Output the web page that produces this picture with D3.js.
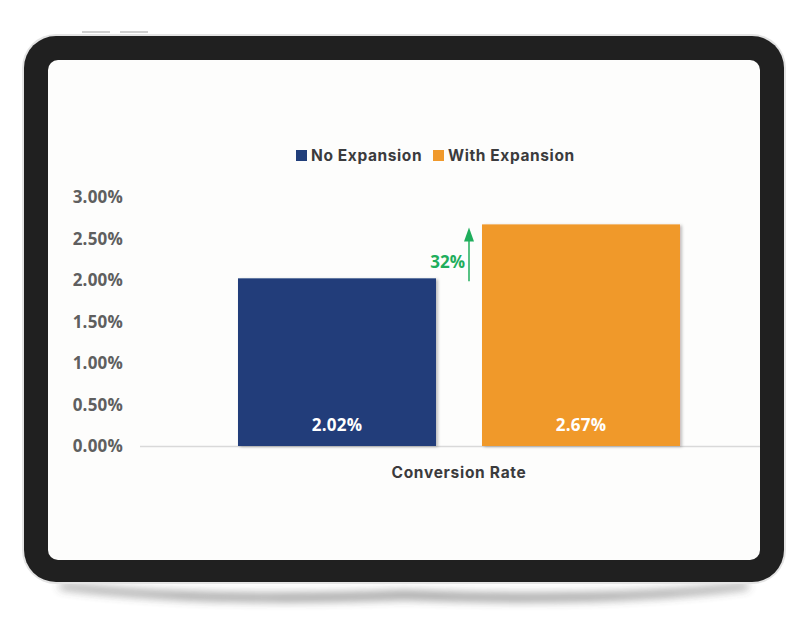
<!DOCTYPE html>
<html><head><meta charset="utf-8">
<script src="https://cdn.jsdelivr.net/npm/d3@7"></script>
<style>body{margin:0;background:#fff;}svg{display:block;}</style>
</head><body>
<svg id="c" width="808" height="627"></svg>
<script>
const categories = ["Conversion Rate"];
const seriesNames = ["No Expansion", "With Expansion"];
const seriesValues = [0.0202, 0.0267];
const seriesColors = ["#213e7a", "#f0992b"];
const yTicks = [0, 0.005, 0.01, 0.015, 0.02, 0.025, 0.03];
const changeLabel = "32%";

const svg = d3.select("#c");
const defs = svg.append("defs");
const f = defs.append("filter").attr("id","blur").attr("x","-20%").attr("y","-200%").attr("width","140%").attr("height","500%");
f.append("feGaussianBlur").attr("stdDeviation", 5);
const bs = defs.append("filter").attr("id","bshadow").attr("x","-10%").attr("y","-10%").attr("width","130%").attr("height","130%");
bs.append("feDropShadow").attr("dx",2).attr("dy",1).attr("stdDeviation",1.5).attr("flood-color","#000").attr("flood-opacity",0.25);

// tablet frame
svg.append("path").attr("d","M60,584 Q200,600 404,592 Q608,600 748,584 L748,588 Q608,606 404,598 Q200,606 60,588 Z")
  .attr("fill","#444").attr("filter","url(#blur)").attr("opacity",0.75);
svg.append("rect").attr("x",22).attr("y",34).attr("width",764).attr("height",550).attr("rx",34).attr("fill","#e4e4e4");
svg.append("rect").attr("x",24).attr("y",36).attr("width",760).attr("height",546).attr("rx",32).attr("fill","#202020");
svg.append("rect").attr("x",48).attr("y",60).attr("width",712).attr("height",500).attr("rx",10).attr("fill","#fdfdfc");
svg.append("rect").attr("x",82).attr("y",31).attr("width",28).attr("height",2).attr("fill","#cfcfcf");
svg.append("rect").attr("x",120).attr("y",31).attr("width",28).attr("height",2).attr("fill","#cfcfcf");

// scales
const y = d3.scaleLinear().domain([0, 0.03]).range([446, 197]);
const x0 = d3.scaleBand().domain(categories).range([140, 778]).paddingOuter(0.2217);
const x1 = d3.scaleBand().domain(seriesNames).range([0, x0.bandwidth()]).paddingInner(46/244).paddingOuter(0);

// baseline
svg.append("line").attr("x1",140).attr("x2",760).attr("y1",y(0)+0.5).attr("y2",y(0)+0.5).attr("stroke","#d9d9d9").attr("stroke-width",1.5);

// y axis
const yAxis = d3.axisLeft(y).tickValues(yTicks).tickSize(0).tickPadding(0).tickFormat(d3.format(".2%"));
const ga = svg.append("g").attr("transform","translate(123,0)").call(yAxis);
ga.select(".domain").remove();
ga.selectAll("text").attr("font-family","'Open Sans', sans-serif").attr("font-weight",700).attr("font-size",17).attr("letter-spacing",0.2).attr("fill","#5f5f5f").attr("dy","0.35em");

// bars
const g = svg.append("g").attr("transform",`translate(${x0(categories[0])},0)`);
seriesNames.forEach((s,i)=>{
  g.append("rect").attr("x",x1(s)).attr("y",y(seriesValues[i])).attr("width",x1.bandwidth()).attr("height",y(0)-y(seriesValues[i])).attr("fill",seriesColors[i]).attr("filter","url(#bshadow)");
  g.append("text").attr("x",x1(s)+x1.bandwidth()/2).attr("y",431).attr("text-anchor","middle")
   .attr("font-family","'Open Sans', sans-serif").attr("font-weight",700).attr("font-size",17).attr("letter-spacing",0.2).attr("fill","#fff")
   .text(d3.format(".2%")(seriesValues[i]));
});

// growth arrow
const ax = x0(categories[0]) + x1(seriesNames[1]) - 13;
svg.append("line").attr("x1",ax).attr("x2",ax).attr("y1",y(seriesValues[0])+3).attr("y2",y(seriesValues[1])+12).attr("stroke","#1fae5c").attr("stroke-width",1.5);
svg.append("path").attr("d",`M${ax-5},${y(seriesValues[1])+17} L${ax},${y(seriesValues[1])+3} L${ax+5},${y(seriesValues[1])+17} Z`).attr("fill","#1fae5c");
svg.append("text").attr("x",ax-4).attr("y",268).attr("text-anchor","end").attr("font-family","'Open Sans', sans-serif").attr("font-weight",700).attr("font-size",17).attr("fill","#1fae5c").text(changeLabel);

// category label
svg.append("text").attr("x",x0(categories[0])+x0.bandwidth()/2).attr("y",478).attr("text-anchor","middle")
  .attr("font-family","Inter, sans-serif").attr("font-weight",700).attr("font-size",15.5).attr("letter-spacing",0.7).attr("fill","#3b3b3d").text(categories[0]);

// legend
const legX = [296, 433];
seriesNames.forEach((s,i)=>{
  svg.append("rect").attr("x",legX[i]).attr("y",150).attr("width",11).attr("height",11).attr("fill",seriesColors[i]);
  svg.append("text").attr("x",legX[i]+15).attr("y",161).attr("font-family","Inter, sans-serif").attr("font-weight",700).attr("font-size",15.5).attr("letter-spacing",0.6).attr("fill","#3b3b3d").text(s);
});
</script>
</body></html>
